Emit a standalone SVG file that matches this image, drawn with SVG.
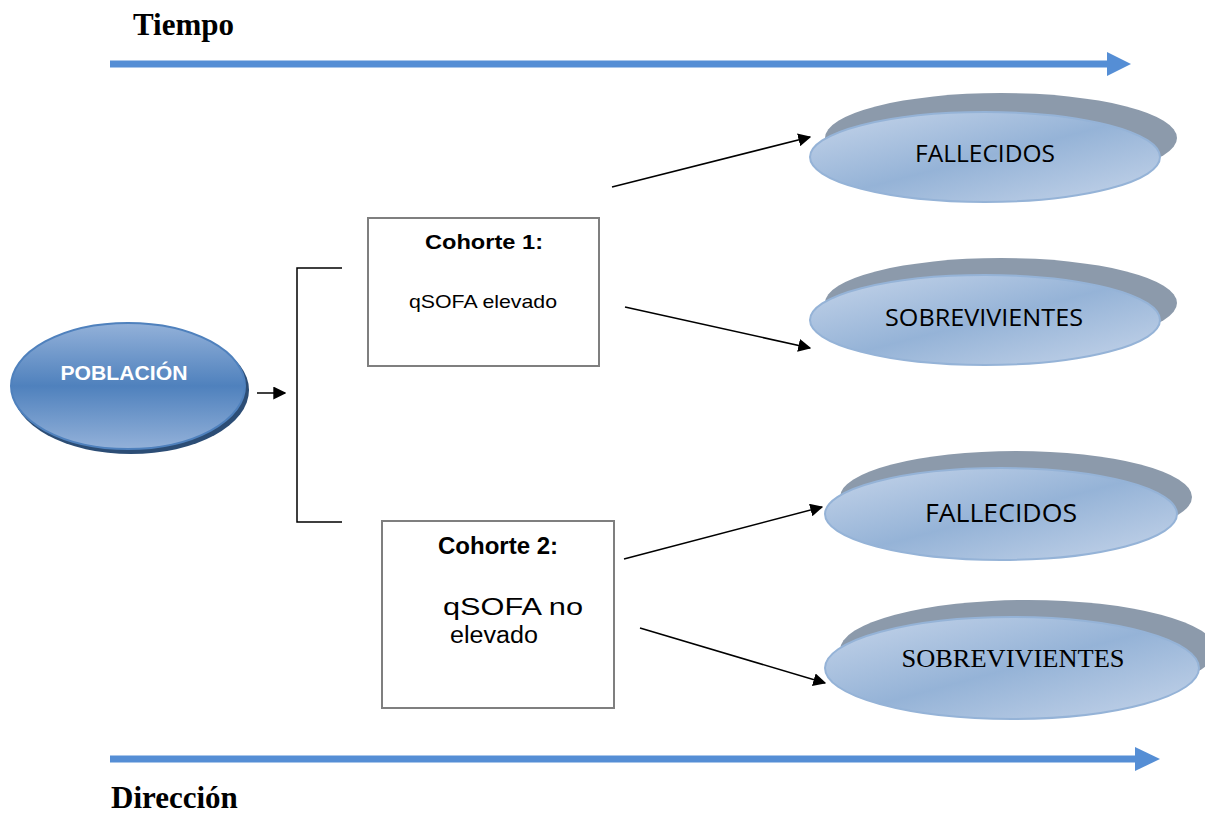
<svg xmlns="http://www.w3.org/2000/svg" width="1205" height="813" viewBox="0 0 1205 813">
<defs>
<style>
.title{font-family:"Liberation Serif",serif;font-weight:bold;font-size:31px;fill:#000}
.box{fill:#fff;stroke:#7f7f7f;stroke-width:2}
.bh{font-family:"Liberation Sans",Arial,sans-serif;font-weight:bold;fill:#000;text-anchor:middle}
.bt{font-family:"Liberation Sans",Arial,sans-serif;fill:#000;text-anchor:middle}
.shadow{fill:#8c9aab}
.front{fill:url(#lg);stroke:#95b3d7;stroke-width:2}
.lbl{font-family:"Open Sans",Lato,sans-serif;fill:#000;text-anchor:middle}
.conn{stroke:#000;stroke-width:1.5;fill:none;marker-end:url(#ah)}
.line{stroke:#000;stroke-width:1.5;fill:none}
.big{stroke:#558ed5;stroke-width:7;fill:none}
</style>
<linearGradient id="lg" x1="0" y1="0" x2="1" y2="1">
<stop offset="0" stop-color="#c6d5ea"/>
<stop offset="0.5" stop-color="#95b3d7"/>
<stop offset="1" stop-color="#c6d5ea"/>
</linearGradient>
<linearGradient id="pg" x1="0" y1="0" x2="0" y2="1">
<stop offset="0" stop-color="#93b1d9"/>
<stop offset="0.5" stop-color="#4f81bd"/>
<stop offset="1" stop-color="#93b1d9"/>
</linearGradient>
<marker id="ah" viewBox="0 0 10 10" refX="9" refY="5" markerWidth="13" markerHeight="13" markerUnits="userSpaceOnUse" orient="auto">
<path d="M0,0 L10,5 L0,10 z" fill="#000"/>
</marker>
</defs>

<g id="tiempo">
<text class="title" x="133" y="35">Tiempo</text>
<line class="big" x1="110" y1="64" x2="1110" y2="64"/>
<polygon points="1107,52 1131,64 1107,76" fill="#558ed5"/>
</g>

<g id="direccion">
<line class="big" x1="110" y1="759" x2="1138" y2="759"/>
<polygon points="1135,747 1160,759 1135,771" fill="#558ed5"/>
<text class="title" x="111" y="808">Dirección</text>
</g>

<g id="poblacion">
<ellipse cx="131" cy="390" rx="118" ry="64" fill="#2c4d75"/>
<ellipse cx="128" cy="386" rx="117" ry="63" fill="url(#pg)" stroke="#4f81bd" stroke-width="2"/>
<text x="124" y="380" font-family="Liberation Sans,Arial,sans-serif" font-weight="bold" font-size="21" fill="#fff" text-anchor="middle" textLength="127" lengthAdjust="spacingAndGlyphs">POBLACIÓN</text>
</g>

<g id="cohorte1">
<rect class="box" x="368" y="218" width="231" height="148"/>
<text class="bh" x="484" y="249" font-size="21" textLength="118" lengthAdjust="spacingAndGlyphs">Cohorte 1:</text>
<text class="bt" x="483" y="308" font-size="19" textLength="148" lengthAdjust="spacingAndGlyphs">qSOFA elevado</text>
</g>

<g id="cohorte2">
<rect class="box" x="382" y="521" width="232" height="187"/>
<text class="bh" x="498" y="554" font-size="23" textLength="120" lengthAdjust="spacingAndGlyphs">Cohorte 2:</text>
<text class="bt" x="513" y="615" font-size="23" textLength="140" lengthAdjust="spacingAndGlyphs">qSOFA no</text>
<text class="bt" x="494" y="643" font-size="23" textLength="88" lengthAdjust="spacingAndGlyphs">elevado</text>
</g>

<g id="fallecidos1">
<ellipse class="shadow" cx="1001" cy="138" rx="176" ry="45"/>
<ellipse class="front" cx="985" cy="157" rx="175" ry="45"/>
<text class="lbl" x="985" y="162" font-size="24" textLength="140" lengthAdjust="spacingAndGlyphs">FALLECIDOS</text>
</g>

<g id="sobrevivientes1">
<ellipse class="shadow" cx="1001" cy="303" rx="176" ry="45"/>
<ellipse class="front" cx="985" cy="320" rx="175" ry="45"/>
<text class="lbl" x="984" y="326" font-size="24" textLength="198" lengthAdjust="spacingAndGlyphs">SOBREVIVIENTES</text>
</g>

<g id="fallecidos2">
<ellipse class="shadow" cx="1016" cy="497" rx="176" ry="46"/>
<ellipse class="front" cx="1001" cy="514" rx="176" ry="46"/>
<text class="lbl" x="1001" y="522" font-size="26" textLength="152" lengthAdjust="spacingAndGlyphs">FALLECIDOS</text>
</g>

<g id="sobrevivientes2">
<ellipse class="shadow" cx="1028" cy="650" rx="188" ry="50"/>
<ellipse class="front" cx="1012" cy="668" rx="187" ry="51"/>
<text x="1013" y="667" font-family="Liberation Serif,serif" font-size="25" fill="#000" text-anchor="middle" textLength="223" lengthAdjust="spacingAndGlyphs">SOBREVIVIENTES</text>
</g>

<g id="connectors">
<line class="conn" x1="257" y1="393" x2="285" y2="393"/>
<polyline class="line" points="342,268 297,268 297,522 342,522"/>
<line class="conn" x1="612" y1="187" x2="810" y2="137"/>
<line class="conn" x1="625" y1="307" x2="810" y2="348"/>
<line class="conn" x1="624" y1="559" x2="822" y2="507"/>
<line class="conn" x1="640" y1="628" x2="825" y2="683"/>
</g>
</svg>
